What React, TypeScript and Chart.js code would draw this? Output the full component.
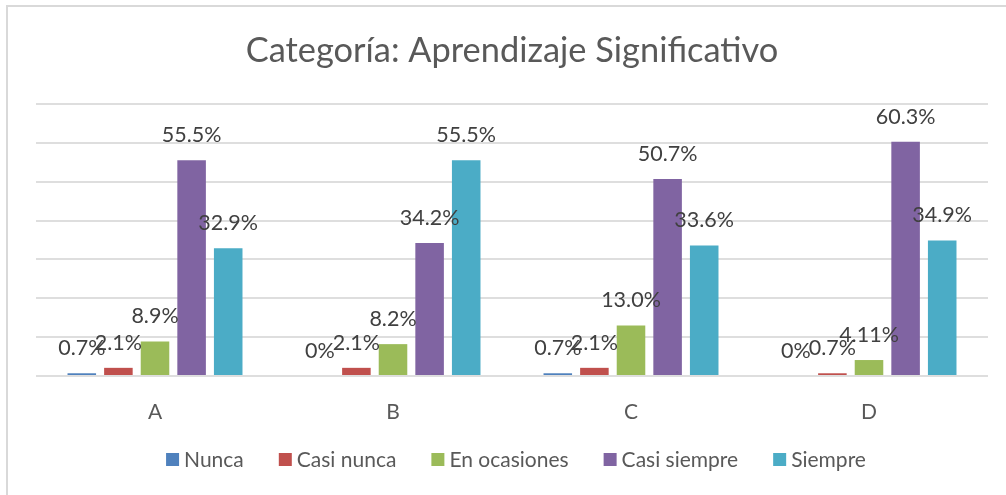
import React, { useEffect, useRef } from "react";
import { Chart, registerables } from "chart.js";

Chart.register(...registerables);

const title = "Categoría: Aprendizaje Significativo";
const categories = ["A", "B", "C", "D"];
const seriesNames = ["Nunca", "Casi nunca", "En ocasiones", "Casi siempre", "Siempre"];
const seriesColors = ["#4F81BD", "#C0504D", "#9BBB59", "#8064A2", "#4BACC6"];

const nunca = [0.7, 0, 0.7, 0];
const casiNunca = [2.1, 2.1, 2.1, 0.7];
const enOcasiones = [8.9, 8.2, 13.0, 4.11];
const casiSiempre = [55.5, 34.2, 50.7, 60.3];
const siempre = [32.9, 55.5, 33.6, 34.9];

const nuncaLabels = ["0.7%", "0%", "0.7%", "0%"];
const casiNuncaLabels = ["2.1%", "2.1%", "2.1%", "0.7%"];
const enOcasionesLabels = ["8.9%", "8.2%", "13.0%", "4.11%"];
const casiSiempreLabels = ["55.5%", "34.2%", "50.7%", "60.3%"];
const siempreLabels = ["32.9%", "55.5%", "33.6%", "34.9%"];

const yMin = 0;
const yMax = 70;
const yStep = 10;

const FONT = "Lato, 'Open Sans', sans-serif";

const seriesValues = [nunca, casiNunca, enOcasiones, casiSiempre, siempre];
const seriesLabels = [nuncaLabels, casiNuncaLabels, enOcasionesLabels, casiSiempreLabels, siempreLabels];

const decorPlugin = {
  id: "decor",
  afterDatasetsDraw(chart: any) {
    const ctx = chart.ctx;
    ctx.save();
    // data labels
    ctx.font = `21.5px ${FONT}`;
    ctx.fillStyle = "#404040";
    ctx.textAlign = "center";
    ctx.textBaseline = "alphabetic";
    chart.data.datasets.forEach((ds: any, di: number) => {
      const meta = chart.getDatasetMeta(di);
      meta.data.forEach((bar: any, i: number) => {
        ctx.fillText(ds.valueLabels[i], bar.x, bar.y - 18);
      });
    });
    // title
    ctx.font = `34.4px ${FONT}`;
    ctx.fillStyle = "#595959";
    ctx.textAlign = "center";
    ctx.fillText(title, 512, 62);
    // legend
    ctx.font = `21px ${FONT}`;
    const box = 13;
    const gapText = 5;
    const gapItem = 35;
    const widths = seriesNames.map((n) => ctx.measureText(n).width);
    const total = widths.reduce((a, w) => a + box + gapText + w, 0) + gapItem * (seriesNames.length - 1);
    let x = 516 - total / 2;
    const y = 460;
    ctx.textAlign = "left";
    ctx.textBaseline = "alphabetic";
    seriesNames.forEach((n, i) => {
      ctx.fillStyle = seriesColors[i];
      ctx.fillRect(x, y - box / 2 - 0.5, box, box);
      ctx.fillStyle = "#595959";
      ctx.fillText(n, x + box + gapText, y + 7);
      x += box + gapText + widths[i] + gapItem;
    });
    ctx.restore();
  },
};

export default function App() {
  const canvasRef = useRef<HTMLCanvasElement | null>(null);

  useEffect(() => {
    const canvas = canvasRef.current;
    if (!canvas) return;
    const chart = new Chart(canvas, {
      type: "bar",
      data: {
        labels: categories,
        datasets: seriesNames.map((name, i) => ({
          label: name,
          data: seriesValues[i],
          valueLabels: seriesLabels[i],
          backgroundColor: seriesColors[i],
          borderWidth: 0,
          categoryPercentage: 0.769,
          barPercentage: 0.78,
        })) as any,
      },
      options: {
        animation: false,
        responsive: false,
        maintainAspectRatio: false,
        layout: { padding: { left: 36, right: 18, top: 104, bottom: 0 } },
        plugins: {
          legend: { display: false },
          title: { display: false },
          tooltip: { enabled: false },
        },
        scales: {
          x: {
            grid: { display: false },
            border: { display: false },
            ticks: {
              color: "#595959",
              font: { family: FONT, size: 21 },
              padding: 16,
            },
            afterFit: (s: any) => {
              s.height = 119;
            },
          },
          y: {
            display: true,
            min: yMin,
            max: yMax,
            ticks: { display: false, stepSize: yStep },
            grid: { color: "#DEDEDE", lineWidth: 2, drawTicks: false },
            border: { display: false },
            afterFit: (s: any) => {
              s.width = 0;
            },
          },
        },
      },
      plugins: [decorPlugin],
    });
    return () => chart.destroy();
  }, []);

  return (
    <div style={{ position: "fixed", left: 0, top: 0, width: 1006, height: 495, background: "#fff" }}>
      <canvas ref={canvasRef} width={1006} height={495} style={{ position: "absolute", left: 0, top: 0 }} />
      <div
        style={{
          position: "absolute",
          left: 6,
          top: 5,
          width: 1000,
          height: 490,
          borderTop: "2px solid #D9D9D9",
          borderLeft: "2px solid #D9D9D9",
          boxSizing: "border-box",
          pointerEvents: "none",
        }}
      />
    </div>
  );
}
